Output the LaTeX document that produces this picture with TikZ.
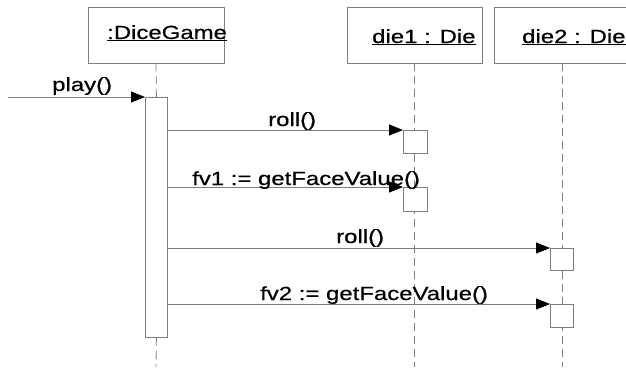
\documentclass[tikz,border=0pt]{standalone}
\usepackage{fontspec}
\setmainfont{Liberation Sans}[FakeStretch=1.26,FakeBold=0.6]
\usetikzlibrary{arrows.meta}
\definecolor{ln}{RGB}{125,125,125}
\newcommand{\ulbl}[1]{\underline{#1}}
\begin{document}
\begin{tikzpicture}[x=1pt,y=-1pt,
  line/.style={draw=ln, line width=0.8pt},
  headbox/.style={line, rectangle, inner sep=0pt, minimum height=56pt},
  actbox/.style={line, fill=white, rectangle, inner sep=0pt, anchor=north west},
  lifeline/.style={draw=ln, line width=0.8pt, dash pattern=on 8pt off 5pt},
  msg/.style={draw=ln, line width=0.8pt, -{Triangle[length=14pt,width=11pt,color=black,fill=black]}},
  lbl/.style={inner sep=0pt, anchor=base west, text=black, font=\fontsize{19}{23}\selectfont},
]
\clip (0,0) rectangle (626,367);
\fill[white] (0,0) rectangle (626,367);

% lifeline heads
\node[headbox, minimum width=136pt] (dg) at (156,35) {};
\node[headbox, minimum width=135pt] (d1) at (414.5,35) {};
\node[headbox, minimum width=136pt] (d2) at (562,35) {};

% end points of lifelines
\coordinate (dgend) at (156,367);
\coordinate (d1end) at (414.5,367);
\coordinate (d2end) at (562,367);
\coordinate (ps) at (8,97);

% activation boxes
\node[actbox, minimum width=22pt, minimum height=240pt] (dga) at (145,97) {};
\draw[lifeline] (dg.south) -- (dga.north);
\draw[lifeline] (dga.south) -- (dgend);
\draw[lifeline] (d1.south) -- (d1end);
\draw[lifeline] (d2.south) -- (d2end);

\node[actbox, minimum width=24pt, minimum height=23pt] (a1) at (403,130) {};
\node[actbox, minimum width=24pt, minimum height=24pt] (a2) at (403,187) {};
\node[actbox, minimum width=23pt, minimum height=22pt] (a3) at (550,248) {};
\node[actbox, minimum width=23pt, minimum height=23pt] (a4) at (550,304) {};

% messages
\draw[msg] (ps) -- (dga.north west);
\draw[msg] (dga.east |- a1.north west) -- (a1.north west);
\draw[msg] (dga.east |- a2.north west) -- (a2.north west);
\draw[msg] (dga.east |- a3.north west) -- (a3.north west);
\draw[msg] (dga.east |- a4.north west) -- (a4.north west);

% labels
\node[lbl] (dgl) at (107,39) {\ulbl{:DiceGame}};
\node[lbl] (d1l) at (372,43) {\ulbl{die1 : Die}};
\node[lbl] (d2l) at (522,43) {\ulbl{die2 : Die}};
\node[lbl] (m0) at (52,91) {play()};
\node[lbl] (m1) at (268,126) {roll()};
\node[lbl] (m2) at (192,185) {fv1 := getFaceValue()};
\node[lbl] (m3) at (336,243) {roll()};
\node[lbl] (m4) at (260,300) {fv2 := getFaceValue()};
\end{tikzpicture}
\end{document}
